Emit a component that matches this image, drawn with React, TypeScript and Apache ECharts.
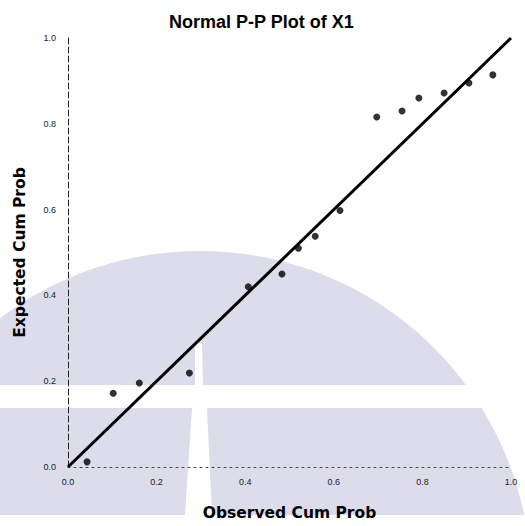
import React, { useEffect, useRef } from "react";
import * as echarts from "echarts";

const titleText = "Normal P-P Plot of X1";
const xName = "Observed Cum Prob";
const yName = "Expected Cum Prob";
const observedCum = [0.043, 0.102, 0.161, 0.274, 0.407, 0.483, 0.52, 0.558, 0.614, 0.697, 0.754, 0.792, 0.849, 0.905, 0.959];
const expectedCum = [0.012, 0.172, 0.196, 0.219, 0.42, 0.45, 0.51, 0.538, 0.598, 0.816, 0.83, 0.86, 0.872, 0.895, 0.914];
const refLine = [[0, 0], [1, 1]];

export default function App() {
  const ref = useRef<HTMLDivElement>(null);
  useEffect(() => {
    if (!ref.current) return;
    const chart = echarts.init(ref.current, null, { renderer: "svg" });
    const wm = "#dcdcea";
    const nameStyle = { fontFamily: "DejaVu Sans, sans-serif", fontWeight: "bold", fontSize: 15.5, color: "#000" };
    chart.setOption({
      animation: false,
      backgroundColor: "#ffffff",
      title: {
        text: titleText,
        left: 164,
        top: 8,
        textStyle: { fontFamily: "Liberation Sans, Arial, sans-serif", fontWeight: "bold", fontSize: 18, color: "#000" },
      },
      graphic: [
        { type: "circle", z: -20, silent: true, shape: { cx: 200, cy: 582, r: 331 }, style: { fill: wm } },
        { type: "rect", z: -19, silent: true, shape: { x: 0, y: 385, width: 525, height: 23 }, style: { fill: "#fff" } },
        { type: "polygon", z: -19, silent: true, shape: { points: [[195, 343], [202, 343], [203, 385], [195, 385]] }, style: { fill: "#fff" } },
        { type: "polygon", z: -19, silent: true, shape: { points: [[192, 408], [207, 408], [212, 515], [185, 515]] }, style: { fill: "#fff" } },
        { type: "rect", z: -19, silent: true, shape: { x: 0, y: 515, width: 525, height: 20 }, style: { fill: "#fff" } },
      ],
      grid: { left: 68, right: 14, top: 38, bottom: 59 },
      xAxis: {
        type: "value",
        min: 0,
        max: 1,
        interval: 0.2,
        name: xName,
        nameLocation: "middle",
        nameGap: 38,
        nameTextStyle: nameStyle,
        axisLine: { show: true, onZero: false, lineStyle: { color: "#444", width: 1, type: [2, 4] } },
        axisTick: { show: false },
        splitLine: { show: false },
        axisLabel: { margin: 10, fontSize: 9, color: "#222", fontFamily: "Liberation Sans, Arial, sans-serif", formatter: (v: number) => v.toFixed(1) },
      },
      yAxis: {
        type: "value",
        min: 0,
        max: 1,
        interval: 0.2,
        name: yName,
        nameLocation: "middle",
        nameGap: 40,
        nameTextStyle: nameStyle,
        axisLine: { show: true, onZero: false, lineStyle: { color: "#222", width: 1, type: [6, 3] } },
        axisTick: { show: false },
        splitLine: { show: false },
        axisLabel: { margin: 12, fontSize: 9, color: "#222", fontFamily: "Liberation Sans, Arial, sans-serif", formatter: (v: number) => v.toFixed(1) },
      },
      series: [
        {
          type: "line",
          data: refLine,
          symbol: "none",
          lineStyle: { color: "#000", width: 3 },
          z: 3,
        },
        {
          type: "scatter",
          data: observedCum.map((x, i) => [x, expectedCum[i]]),
          symbol: "circle",
          symbolSize: 7,
          itemStyle: { color: "#000" },
          z: 4,
        },
      ],
    });
    return () => chart.dispose();
  }, []);
  return <div ref={ref} style={{ position: "fixed", left: 0, top: 0, width: 525, height: 526 }} />;
}
